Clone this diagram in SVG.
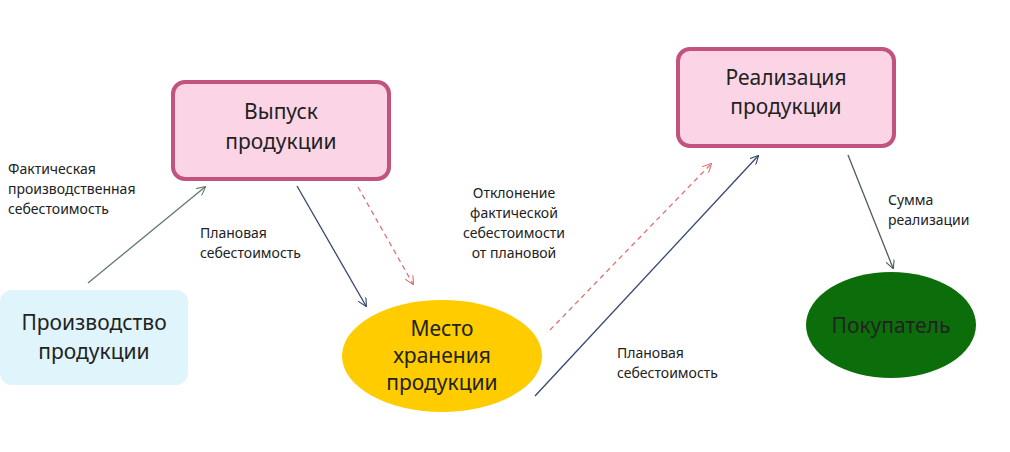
<svg xmlns="http://www.w3.org/2000/svg" width="1010" height="452" viewBox="0 0 1010 452">
<defs>
<marker id="ma" viewBox="0 0 10 10" refX="9" refY="5" markerWidth="9" markerHeight="9" orient="auto-start-reverse" markerUnits="userSpaceOnUse"><path d="M0,0 L10,5 L0,10" fill="none" stroke="context-stroke" stroke-width="1.2"/></marker>
</defs>
<style>
.t{font-family:"Noto Sans","Open Sans",sans-serif;fill:#222;}
.s{font-size:14px;}
.b{font-size:21px;}
.pink{fill:#fbd5e6;stroke:#c2527e;stroke-width:4;}
.c{fill:none;stroke-width:1.3;marker-end:url(#ma);}
</style>
<rect width="1010" height="452" fill="#fff"/>
<g id="proizvodstvo"><rect x="0" y="290" width="188" height="95" rx="12" fill="#dff4fb"/><text class="t b" text-anchor="middle" x="94" y="330">Производство</text><text class="t b" text-anchor="middle" x="94" y="359">продукции</text></g>
<g id="vypusk"><rect class="pink" x="173" y="82" width="216" height="97" rx="12"/><text class="t b" text-anchor="middle" x="281" y="119">Выпуск</text><text class="t b" text-anchor="middle" x="281" y="149">продукции</text></g>
<g id="realizaciya"><rect class="pink" x="678" y="49" width="216" height="97" rx="12"/><text class="t b" text-anchor="middle" x="786" y="85">Реализация</text><text class="t b" text-anchor="middle" x="786" y="114">продукции</text></g>
<g id="mesto"><ellipse cx="442" cy="356" rx="100" ry="56" fill="#ffcc00"/><text class="t b" text-anchor="middle" x="442" y="336">Место</text><text class="t b" text-anchor="middle" x="442" y="363">хранения</text><text class="t b" text-anchor="middle" x="442" y="390">продукции</text></g>
<g id="pokupatel"><ellipse cx="891" cy="325" rx="85" ry="53" fill="#0b6e0b"/><text class="t b" text-anchor="middle" x="891" y="333">Покупатель</text></g>
<g id="connectors">
<line class="c" x1="88" y1="283" x2="205" y2="187" stroke="#5f7a68"/>
<line class="c" x1="297" y1="186" x2="366" y2="306" stroke="#34476e"/>
<line class="c" x1="358" y1="187" x2="413" y2="284" stroke="#e07070" stroke-dasharray="5,4"/>
<line class="c" x1="550" y1="330" x2="711" y2="164" stroke="#e07070" stroke-dasharray="5,4"/>
<line class="c" x1="535" y1="396" x2="758" y2="156" stroke="#34476e"/>
<line class="c" x1="848" y1="155" x2="893" y2="268" stroke="#4e5e54"/>
</g>
<g id="labels">
<text class="t s" x="8" y="174">Фактическая</text><text class="t s" x="8" y="194">производственная</text><text class="t s" x="8" y="214">себестоимость</text>
<text class="t s" x="200" y="238">Плановая</text><text class="t s" x="200" y="258">себестоимость</text>
<text class="t s" text-anchor="middle" x="514" y="198">Отклонение</text><text class="t s" text-anchor="middle" x="514" y="218">фактической</text><text class="t s" text-anchor="middle" x="514" y="238">себестоимости</text><text class="t s" text-anchor="middle" x="514" y="258">от плановой</text>
<text class="t s" x="617" y="358">Плановая</text><text class="t s" x="617" y="378">себестоимость</text>
<text class="t s" x="888" y="205">Сумма</text><text class="t s" x="888" y="225">реализации</text>
</g>
</svg>
